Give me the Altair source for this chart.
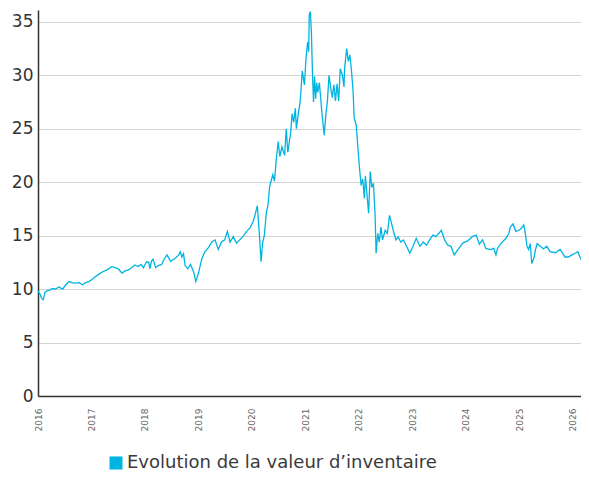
import altair as alt
import pandas as pd

series_name = "Evolution de la valeur d\u2019inventaire"
year_ticks = list(range(2016, 2027))
y_ticks = [0, 5, 10, 15, 20, 25, 30, 35]

dates = [
    2016.00, 2016.04, 2016.07, 2016.10, 2016.13, 2016.17, 2016.22, 2016.27, 2016.33, 2016.39,
    2016.46, 2016.52, 2016.58, 2016.64, 2016.70, 2016.77, 2016.83, 2016.89, 2016.95, 2017.01,
    2017.07, 2017.14, 2017.20, 2017.29, 2017.38, 2017.44, 2017.50, 2017.57, 2017.63, 2017.69,
    2017.75, 2017.81, 2017.87, 2017.93, 2017.97, 2018.03, 2018.07, 2018.09, 2018.12, 2018.15,
    2018.20, 2018.25, 2018.31, 2018.37, 2018.41, 2018.48, 2018.57, 2018.63, 2018.66, 2018.69,
    2018.72, 2018.75, 2018.80, 2018.85, 2018.91, 2018.95, 2019.00, 2019.06, 2019.12, 2019.19,
    2019.25, 2019.31, 2019.37, 2019.43, 2019.49, 2019.54, 2019.59, 2019.65, 2019.71, 2019.77,
    2019.83, 2019.90, 2019.96, 2020.02, 2020.06, 2020.10, 2020.12, 2020.15, 2020.17, 2020.20,
    2020.23, 2020.27, 2020.30, 2020.33, 2020.39, 2020.42, 2020.45, 2020.49, 2020.52, 2020.56,
    2020.61, 2020.64, 2020.67, 2020.72, 2020.75, 2020.78, 2020.81, 2020.83, 2020.86, 2020.90,
    2020.91, 2020.94, 2020.98, 2021.01, 2021.04, 2021.06, 2021.07, 2021.09, 2021.11, 2021.13,
    2021.15, 2021.17, 2021.19, 2021.21, 2021.23, 2021.26, 2021.28, 2021.31, 2021.35, 2021.38,
    2021.41, 2021.44, 2021.47, 2021.50, 2021.53, 2021.56, 2021.59, 2021.62, 2021.65, 2021.69,
    2021.72, 2021.73, 2021.77, 2021.80, 2021.83, 2021.86, 2021.89, 2021.91, 2021.95, 2021.98,
    2022.01, 2022.04, 2022.07, 2022.10, 2022.12, 2022.15, 2022.18, 2022.21, 2022.24, 2022.27,
    2022.30, 2022.32, 2022.35, 2022.38, 2022.41, 2022.44, 2022.49, 2022.53, 2022.57, 2022.60,
    2022.64, 2022.69, 2022.73, 2022.78, 2022.83, 2022.89, 2022.95, 2023.01, 2023.07, 2023.14,
    2023.20, 2023.26, 2023.32, 2023.38, 2023.44, 2023.54, 2023.60, 2023.66, 2023.72, 2023.78,
    2023.85, 2023.94, 2024.03, 2024.12, 2024.19, 2024.25, 2024.31, 2024.37, 2024.46, 2024.52,
    2024.56, 2024.59, 2024.65, 2024.74, 2024.80, 2024.83, 2024.88, 2024.93, 2024.99, 2025.04,
    2025.08, 2025.11, 2025.14, 2025.17, 2025.20, 2025.23, 2025.27, 2025.30, 2025.33, 2025.39,
    2025.45, 2025.51, 2025.57, 2025.67, 2025.76, 2025.85, 2025.91, 2025.98, 2026.04, 2026.09,
    2026.13, 2026.19,
]

values = [
    9.8, 9.5, 9.1, 9.0, 9.7, 9.85, 9.9, 10.05, 10.0, 10.2,
    10.0, 10.4, 10.7, 10.6, 10.55, 10.6, 10.4, 10.6, 10.7, 10.9,
    11.15, 11.4, 11.6, 11.8, 12.1, 12.0, 11.9, 11.5, 11.7, 11.8,
    12.0, 12.25, 12.1, 12.3, 12.0, 12.55, 12.5, 11.9, 12.6, 12.8,
    12.0, 12.2, 12.3, 12.9, 13.2, 12.6, 12.9, 13.2, 13.5, 13.0,
    13.3, 12.2, 11.9, 12.3, 11.6, 10.7, 11.5, 12.8, 13.5, 13.9,
    14.4, 14.6, 13.7, 14.4, 14.6, 15.4, 14.4, 14.9, 14.3, 14.6,
    14.9, 15.4, 15.7, 16.3, 17.0, 17.8, 16.4, 14.2, 12.55, 14.4,
    15.0, 17.2, 17.9, 19.6, 20.7, 20.1, 21.9, 23.8, 22.4, 23.3,
    22.5, 25.0, 22.8, 24.5, 26.4, 25.6, 26.9, 25.0, 26.2, 27.5,
    28.2, 30.4, 29.1, 31.6, 33.1, 32.2, 35.6, 35.95, 34.1, 30.3,
    27.5, 29.9, 27.8, 29.3, 28.4, 29.3, 28.1, 26.3, 24.4, 26.3,
    27.6, 30.0, 28.9, 27.9, 29.1, 27.6, 29.2, 27.6, 30.6, 30.0,
    28.9, 30.6, 32.5, 31.3, 31.9, 30.4, 28.5, 26.0, 25.3, 23.2,
    21.3, 19.7, 20.3, 18.5, 20.6, 18.8, 17.1, 21.0, 19.5, 19.9,
    17.1, 13.35, 15.2, 14.4, 15.8, 14.6, 15.5, 15.2, 16.9, 16.3,
    15.5, 14.6, 14.9, 14.4, 14.6, 14.0, 13.35, 14.0, 14.75, 14.0,
    14.4, 14.1, 14.6, 15.05, 14.9, 15.5, 14.6, 14.1, 14.0, 13.2,
    13.7, 14.3, 14.5, 14.9, 15.05, 14.2, 14.6, 13.8, 13.7, 13.8,
    13.2, 13.8, 14.25, 14.7, 15.2, 15.8, 16.1, 15.4, 15.5, 15.7,
    16.0, 15.2, 14.0, 13.7, 14.25, 12.4, 12.9, 13.7, 14.25, 14.0,
    13.75, 14.0, 13.5, 13.4, 13.7, 13.0, 13.0, 13.2, 13.35, 13.5,
    13.0, 12.4,
]

df = pd.DataFrame({"t": dates, "v": values, "s": [series_name] * len(dates)})

line_color = "#00b4e2"

chart = (
    alt.Chart(df)
    .mark_line(strokeWidth=1.3, interpolate="linear", clip=True)
    .encode(
        x=alt.X(
            "t:Q",
            scale=alt.Scale(domain=[2016, 2026.15], nice=False, zero=False),
            axis=alt.Axis(
                values=year_ticks,
                format="d",
                labelAngle=270,
                grid=False,
                ticks=False,
                domainColor="#333333",
                domainWidth=1.5,
                labelFontSize=9,
                labelColor="#666666",
                labelPadding=12,
                labelFlush=False,
                labelOverlap=False,
                title=None,
            ),
        ),
        y=alt.Y(
            "v:Q",
            scale=alt.Scale(domain=[0, 36.1], nice=False),
            axis=alt.Axis(
                values=y_ticks,
                grid=True,
                gridColor="#d4d4d4",
                gridWidth=1,
                ticks=False,
                domainColor="#333333",
                domainWidth=1.5,
                labelFontSize=17,
                labelColor="#333333",
                labelPadding=5,
                title=None,
            ),
        ),
        color=alt.Color(
            "s:N",
            scale=alt.Scale(range=[line_color]),
            legend=alt.Legend(
                title=None,
                orient="none",
                legendX=69,
                legendY=444,
                direction="horizontal",
                symbolType="square",
                symbolSize=170,
                symbolFillColor=line_color,
                symbolStrokeWidth=0,
                labelFontSize=18,
                labelColor="#3a3a3a",
                labelOffset=2,
                labelLimit=500,
                padding=0,
            ),
        ),
    )
    .properties(
        width=543,
        height=386,
        autosize="none",
        padding={"left": 30, "top": 2, "right": 0, "bottom": 87},
    )
    .configure(font="DejaVu Sans")
    .configure_view(stroke=None)
)

chart.save("out.html", embed_options={"renderer": "svg", "actions": False})
